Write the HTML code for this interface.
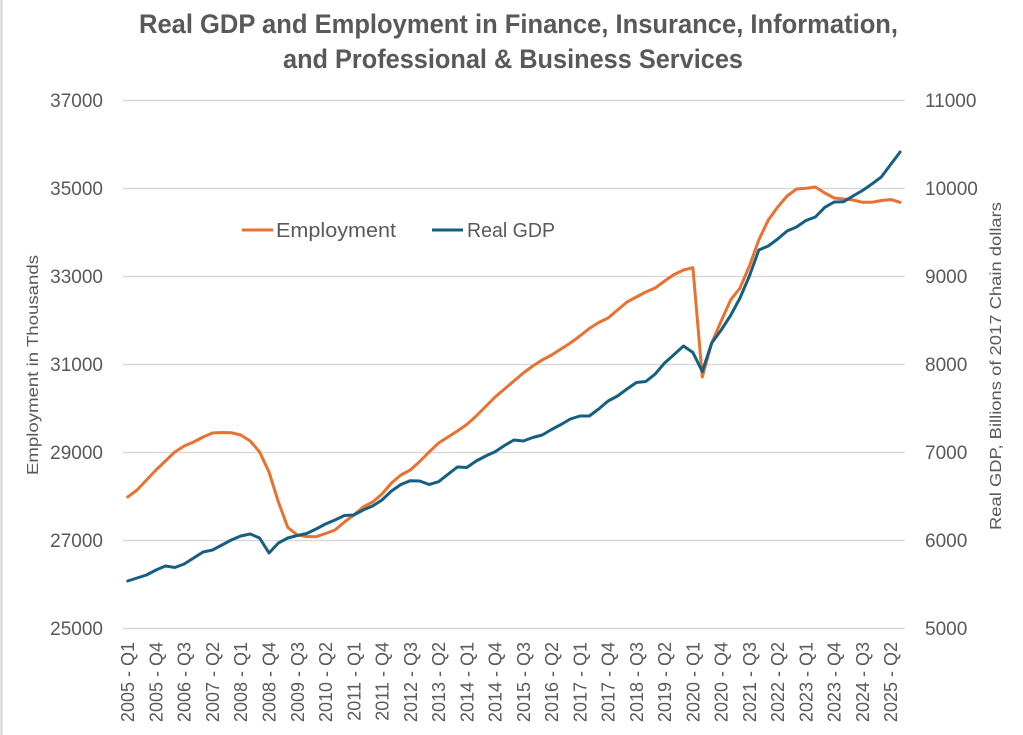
<!DOCTYPE html>
<html><head><meta charset="utf-8"><style>
html,body{margin:0;padding:0;background:#fff;}
svg{display:block;}
text{font-family:"Liberation Sans",sans-serif;fill:#595959;}
.t{font-family:"Liberation Sans Narrow","Liberation Sans",sans-serif;font-weight:bold;font-size:27px;}
.tk{font-size:19px;}
.xl{font-size:18px;}
</style></head><body>
<svg width="1023" height="735" viewBox="0 0 1023 735" xmlns="http://www.w3.org/2000/svg">
<rect width="1023" height="735" fill="#fff"/>
<line x1="1.5" y1="0" x2="1.5" y2="735" stroke="#d0d0d0" stroke-width="2"/>
<text class="t" x="139" y="33" textLength="759" lengthAdjust="spacingAndGlyphs">Real GDP and Employment in Finance, Insurance, Information,</text>
<text class="t" x="283" y="68" textLength="460" lengthAdjust="spacingAndGlyphs">and Professional &amp; Business Services</text>
<g stroke="#d9d9d9" stroke-width="1.5">
<line x1="123" y1="100.5" x2="905" y2="100.5"/>
<line x1="123" y1="188.5" x2="905" y2="188.5"/>
<line x1="123" y1="276.5" x2="905" y2="276.5"/>
<line x1="123" y1="364.5" x2="905" y2="364.5"/>
<line x1="123" y1="452.5" x2="905" y2="452.5"/>
<line x1="123" y1="540.5" x2="905" y2="540.5"/>
<line x1="123" y1="628.5" x2="905" y2="628.5"/>
</g>
<g class="tk" text-anchor="end">
<text x="103" y="107">37000</text>
<text x="103" y="195">35000</text>
<text x="103" y="283">33000</text>
<text x="103" y="371">31000</text>
<text x="103" y="459">29000</text>
<text x="103" y="547">27000</text>
<text x="103" y="635">25000</text>
</g>
<g class="tk" text-anchor="start">
<text x="925" y="107">11000</text>
<text x="925" y="195">10000</text>
<text x="925" y="283">9000</text>
<text x="925" y="371">8000</text>
<text x="925" y="459">7000</text>
<text x="925" y="547">6000</text>
<text x="925" y="635">5000</text>
</g>
<text transform="translate(38,365) rotate(-90)" text-anchor="middle" font-size="16" textLength="220" lengthAdjust="spacingAndGlyphs">Employment in Thousands</text>
<text transform="translate(1001,366) rotate(-90)" text-anchor="middle" font-size="16" textLength="328" lengthAdjust="spacingAndGlyphs">Real GDP, Billions of 2017 Chain dollars</text>
<g class="xl" text-anchor="end">
<text transform="translate(134.2,642) rotate(-90)">2005 - Q1</text>
<text transform="translate(162.5,642) rotate(-90)">2005 - Q4</text>
<text transform="translate(190.7,642) rotate(-90)">2006 - Q3</text>
<text transform="translate(219.0,642) rotate(-90)">2007 - Q2</text>
<text transform="translate(247.2,642) rotate(-90)">2008 - Q1</text>
<text transform="translate(275.5,642) rotate(-90)">2008 - Q4</text>
<text transform="translate(303.8,642) rotate(-90)">2009 - Q3</text>
<text transform="translate(332.0,642) rotate(-90)">2010 - Q2</text>
<text transform="translate(360.3,642) rotate(-90)">2011 - Q1</text>
<text transform="translate(388.5,642) rotate(-90)">2011 - Q4</text>
<text transform="translate(416.8,642) rotate(-90)">2012 - Q3</text>
<text transform="translate(445.1,642) rotate(-90)">2013 - Q2</text>
<text transform="translate(473.3,642) rotate(-90)">2014 - Q1</text>
<text transform="translate(501.6,642) rotate(-90)">2014 - Q4</text>
<text transform="translate(529.8,642) rotate(-90)">2015 - Q3</text>
<text transform="translate(558.1,642) rotate(-90)">2016 - Q2</text>
<text transform="translate(586.4,642) rotate(-90)">2017 - Q1</text>
<text transform="translate(614.6,642) rotate(-90)">2017 - Q4</text>
<text transform="translate(642.9,642) rotate(-90)">2018 - Q3</text>
<text transform="translate(671.1,642) rotate(-90)">2019 - Q2</text>
<text transform="translate(699.4,642) rotate(-90)">2020 - Q1</text>
<text transform="translate(727.7,642) rotate(-90)">2020 - Q4</text>
<text transform="translate(755.9,642) rotate(-90)">2021 - Q3</text>
<text transform="translate(784.2,642) rotate(-90)">2022 - Q2</text>
<text transform="translate(812.4,642) rotate(-90)">2023 - Q1</text>
<text transform="translate(840.7,642) rotate(-90)">2023 - Q4</text>
<text transform="translate(869.0,642) rotate(-90)">2024 - Q3</text>
<text transform="translate(897.2,642) rotate(-90)">2025 - Q2</text>
</g>
<polyline fill="none" stroke="#E97132" stroke-width="3" stroke-linejoin="round" stroke-linecap="round" points="127.7,497 137.1,490 146.5,480 156.0,470 165.4,461 174.8,452 184.2,446 193.6,442 203.1,437 212.5,433 221.9,432.5 231.3,432.7 240.7,435 250.2,441 259.6,452 269.0,472 278.4,502 287.8,527.5 297.3,535 306.7,536.5 316.1,536.7 325.5,533.5 335.0,530 344.4,522 353.8,515 363.2,507 372.6,502 382.0,494 391.5,483 400.9,475 410.3,470 419.7,461.5 429.1,452 438.6,443 448.0,437 457.4,431 466.8,424.5 476.2,416 485.7,406.5 495.1,397 504.5,389 513.9,381 523.3,373 532.8,366 542.2,360 551.6,355 561.0,349 570.4,343 579.9,336 589.3,328.5 598.7,322.5 608.1,318 617.5,310 627.0,302 636.4,297 645.8,292 655.2,288 664.6,281 674.1,274.5 683.5,270 692.9,267.7 702.3,377 711.7,343 721.2,321 730.6,300 740.0,288 749.4,266 758.8,240 768.3,220 777.7,207 787.1,196 796.5,189 805.9,188.3 815.4,187 824.8,193 834.2,198 843.6,199 853.0,200 862.5,202.3 871.9,202.3 881.3,200.5 890.7,199.5 900.1,202.3"/>
<polyline fill="none" stroke="#156082" stroke-width="3" stroke-linejoin="round" stroke-linecap="round" points="127.7,581 137.1,578 146.5,575 156.0,570 165.4,566 174.8,567.5 184.2,564 193.6,558 203.1,552 212.5,550 221.9,545 231.3,540 240.7,536 250.2,534 259.6,538 269.0,553 278.4,543 287.8,538 297.3,535.5 306.7,533.5 316.1,529 325.5,524 335.0,520 344.4,515.5 353.8,515 363.2,510 372.6,506 382.0,500 391.5,491 400.9,484.5 410.3,480.7 419.7,481 429.1,484.5 438.6,481.7 448.0,474.3 457.4,467 466.8,467.5 476.2,461 485.7,456 495.1,451.7 504.5,445.5 513.9,440 523.3,441 532.8,437.5 542.2,435 551.6,429.5 561.0,424.5 570.4,419 579.9,416 589.3,416 598.7,409 608.1,401 617.5,396 627.0,389 636.4,382.5 645.8,381.5 655.2,374 664.6,363 674.1,354.5 683.5,346 692.9,352.5 702.3,371.5 711.7,343 721.2,330 730.6,315.5 740.0,298 749.4,276 758.8,250 768.3,246 777.7,239 787.1,231 796.5,227 805.9,220.5 815.4,217 824.8,207.3 834.2,202 843.6,201.7 853.0,196 862.5,190.5 871.9,184 881.3,177 890.7,164.5 900.1,152"/>
<line x1="242" y1="230" x2="273" y2="230" stroke="#E97132" stroke-width="3"/>
<text x="276" y="237" font-size="20" textLength="120" lengthAdjust="spacingAndGlyphs">Employment</text>
<line x1="432" y1="230" x2="463" y2="230" stroke="#156082" stroke-width="3"/>
<text x="467" y="237" font-size="20" textLength="88" lengthAdjust="spacingAndGlyphs">Real GDP</text>
</svg>
</body></html>
